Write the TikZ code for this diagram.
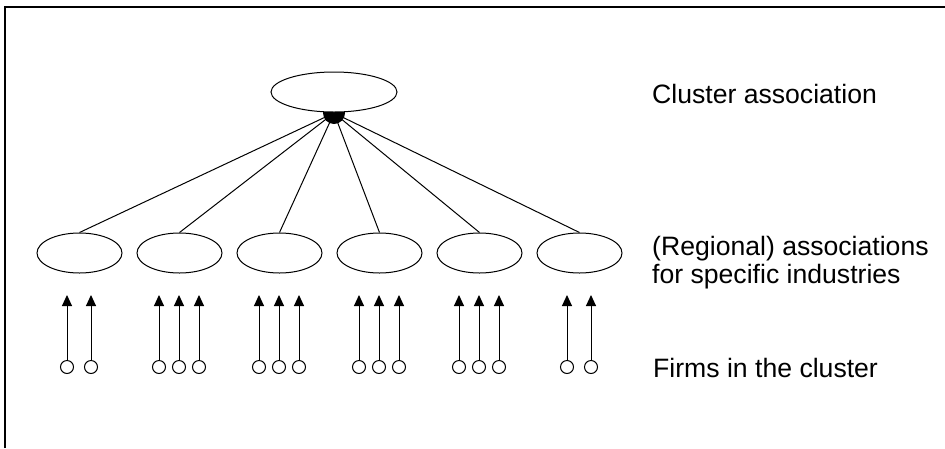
\documentclass[tikz,border=0pt]{standalone}
\usepackage{fontspec}
\setmainfont{Liberation Sans}
\usetikzlibrary{arrows.meta,shapes.geometric}
\begin{document}
\begin{tikzpicture}[x=1pt,y=-1pt,
  assoc/.style={draw,ellipse,line width=1pt,minimum width=85pt,minimum height=40pt,inner sep=0pt,fill=white},
  firm/.style={draw,circle,line width=1pt,minimum size=13pt,inner sep=0pt},
  link/.style={line width=1pt},
  up/.style={line width=1pt,-{Triangle[width=10pt,length=11pt]}},
  lbl/.style={anchor=base west,inner sep=0pt,font=\fontsize{26.6}{29}\selectfont,align=left}]
\useasboundingbox (0,0) rectangle (945,448);
\draw[line width=1.3pt] (5,448) -- (5,7) -- (945,7);
% lower associations
\foreach \i/\x in {1/79.5,2/179.5,3/279.5,4/379.5,5/479.5,6/579.5}
  \node[assoc] (a\i) at (\x,253) {};
% hub and links
\coordinate (hub) at (334,113);
\foreach \i in {1,...,6}
  \draw[link] (hub) -- (a\i.north);
\fill (hub) circle (11);
\node[assoc,minimum width=126pt] (top) at (334,92) {};
% firms
\foreach \n/\x in {11/67,12/91,21/159,22/179,23/199,31/259,32/279,33/299,41/359,42/379,43/399,51/459,52/479,53/499,61/567,62/591}{
  \node[firm] (f\n) at (\x,367) {};
  \coordinate (t\n) at (\x,295);
  \draw[up] (f\n.north) -- (t\n);
}
% labels
\node[lbl] (l1) at (652,103) {Cluster association};
\node[lbl] (l2) at (652,255) {(Regional) associations};
\node[lbl] (l3) at (652,283) {for specific industries};
\node[lbl] (l4) at (653,377) {Firms in the cluster};
\end{tikzpicture}
\end{document}
